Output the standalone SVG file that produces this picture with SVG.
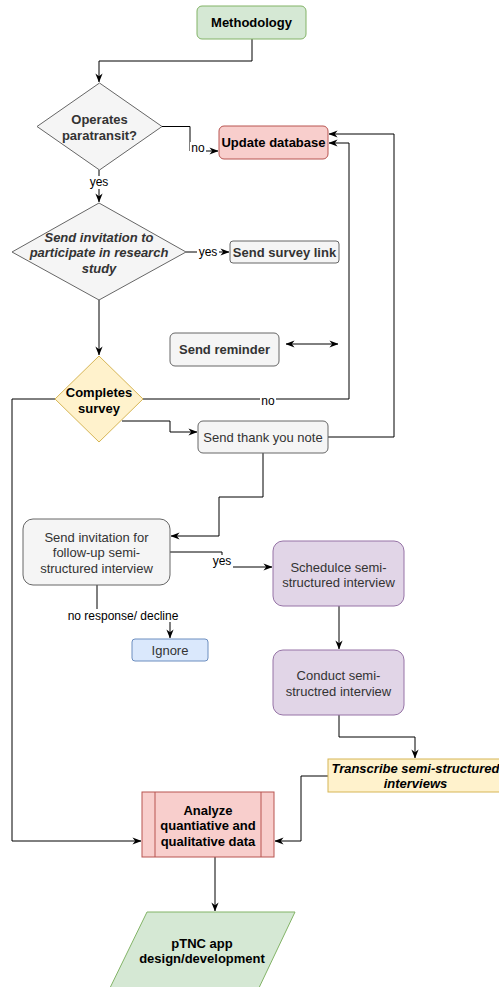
<svg xmlns="http://www.w3.org/2000/svg" width="499" height="987" viewBox="0 0 499 987">
<defs>
<style>
text{font-family:"Liberation Sans",Arial,sans-serif;font-size:13px;text-anchor:middle}
.b{font-weight:bold}
.i{font-style:italic}
.g{fill:#333}
.k{fill:#000}
.lbl{font-size:12px;fill:#000}
.grey{fill:#f5f5f5;stroke:#666;stroke-width:1}
.green{fill:#d5e8d4;stroke:#82b366;stroke-width:1}
.red{fill:#f8cecc;stroke:#b85450;stroke-width:1}
.yellow{fill:#fff2cc;stroke:#d6b656;stroke-width:1}
.purple{fill:#e1d5e7;stroke:#9673a6;stroke-width:1}
.blue{fill:#dae8fc;stroke:#6c8ebf;stroke-width:1}
.e{fill:none;stroke:#000;stroke-width:1}
.ea{fill:none;stroke:#000;stroke-width:1;marker-end:url(#arr)}
.bg{fill:#fff}
</style>
<marker id="arr" viewBox="0 0 10 10" refX="9.5" refY="5" markerWidth="9" markerHeight="9" orient="auto-start-reverse" markerUnits="userSpaceOnUse">
<path d="M0,1 L10,5 L0,9 L3,5 z" fill="#000"/>
</marker>
</defs>

<g id="connectors">
<path class="ea" d="M252 39 V61 H99 V82"/>
<path class="ea" d="M162 126.5 H190 V151 H218"/>
<path class="ea" d="M99 170 V202"/>
<path class="ea" d="M186 252 H229"/>
<path class="ea" d="M99 300 V355"/>
<path class="e" d="M286 344 H338" marker-start="url(#arr)" marker-end="url(#arr)"/>
<path class="ea" d="M143 399 H349 V143 H329"/>
<path class="ea" d="M328 437 H394 V134 H329"/>
<path class="ea" d="M55 399 H12 V841 H141"/>
<path class="ea" d="M122 421 H170 V432 H197"/>
<path class="ea" d="M263 453 V497 H219 V536 H171"/>
<path class="ea" d="M170 552 H222 V567 H272"/>
<path class="ea" d="M97 585 V616 H170 V638"/>
<path class="ea" d="M339 606 V649"/>
<path class="ea" d="M339 715 V737 H415 V758"/>
<path class="ea" d="M328 776 H301 V841 H275"/>
<path class="ea" d="M215 857 V911"/>
<rect class="bg" x="190" y="142" width="16" height="13"/>
<text class="lbl" x="198" y="152">no</text>
<rect class="bg" x="88" y="176" width="22" height="13"/>
<text class="lbl" x="99" y="186">yes</text>
<rect class="bg" x="197" y="246" width="22" height="13"/>
<text class="lbl" x="208" y="256">yes</text>
<rect class="bg" x="260" y="394" width="16" height="13"/>
<text class="lbl" x="268" y="405">no</text>
<rect class="bg" x="211" y="555" width="22" height="13"/>
<text class="lbl" x="222" y="565">yes</text>
<rect class="bg" x="66" y="609" width="114" height="13"/>
<text class="lbl" x="123" y="620">no response/ decline</text>
</g>

<g id="methodology">
<rect class="green" x="197" y="6" width="109" height="33" rx="5"/>
<text class="b k" x="251.5" y="27">Methodology</text>
</g>

<g id="operates-paratransit">
<polygon class="grey" points="99.5,83 162,126.5 99.5,170 37,126.5"/>
<text class="b g" x="99.5" y="123.5">Operates</text>
<text class="b g" x="99.5" y="139.5">paratransit?</text>
</g>

<g id="update-database">
<rect class="red" x="219" y="126" width="109" height="33" rx="5"/>
<text class="b k" x="273.5" y="147">Update database</text>
</g>

<g id="send-invitation">
<polygon class="grey" points="99,203 186,252 99,300 12,252"/>
<text class="b i g" x="99" y="241.5">Send invitation to</text>
<text class="b i g" x="99" y="256.5">participate in research</text>
<text class="b i g" x="99" y="272.5">study</text>
</g>

<g id="send-survey-link">
<rect class="grey" x="230" y="241" width="109" height="22" rx="3"/>
<text class="b g" x="284.5" y="256.5">Send survey link</text>
</g>

<g id="send-reminder">
<rect class="grey" x="170" y="333" width="109" height="33" rx="5"/>
<text class="b g" x="224.5" y="354">Send reminder</text>
</g>

<g id="completes-survey">
<polygon class="yellow" points="99,356 143,399 99,442 55,399"/>
<text class="b k" x="99" y="396.5">Completes</text>
<text class="b k" x="99" y="412.5">survey</text>
</g>

<g id="send-thank-you">
<rect class="grey" x="198" y="421" width="130" height="32" rx="5"/>
<text class="g" x="263" y="441.5">Send thank you note</text>
</g>

<g id="send-followup-invitation">
<rect class="grey" x="23" y="519" width="147" height="66" rx="10"/>
<text class="g" x="96.5" y="541.5">Send invitation for</text>
<text class="g" x="96.5" y="556.5">follow-up semi-</text>
<text class="g" x="96.5" y="572.5">structured interview</text>
</g>

<g id="ignore">
<rect class="blue" x="132" y="639" width="76" height="22" rx="3"/>
<text class="g" x="170" y="654.5">Ignore</text>
</g>

<g id="schedule-interview">
<rect class="purple" x="273" y="541" width="131" height="65" rx="10"/>
<text class="g" x="338.5" y="571.5">Schedulce semi-</text>
<text class="g" x="338.5" y="586.5">structured interview</text>
</g>

<g id="conduct-interview">
<rect class="purple" x="273" y="650" width="131" height="65" rx="10"/>
<text class="g" x="338.5" y="679.5">Conduct semi-</text>
<text class="g" x="338.5" y="695.5">structred interview</text>
</g>

<g id="transcribe">
<rect class="yellow" x="328" y="759" width="174" height="33"/>
<text class="b i k" x="415.5" y="772.5">Transcribe semi-structured</text>
<text class="b i k" x="415.5" y="787.5">interviews</text>
</g>

<g id="analyze">
<rect class="red" x="142" y="792" width="132" height="65"/>
<line x1="155" y1="792" x2="155" y2="857" stroke="#b85450"/>
<line x1="261" y1="792" x2="261" y2="857" stroke="#b85450"/>
<text class="b k" x="208" y="814.5">Analyze</text>
<text class="b k" x="208" y="829.5">quantiative and</text>
<text class="b k" x="208" y="845.5">qualitative data</text>
</g>

<g id="ptnc-app">
<polygon class="green" points="147,912 295,912 257,992 108,992"/>
<text class="b k" x="202" y="947.5">pTNC app</text>
<text class="b k" x="202" y="962.5">design/development</text>
</g>
</svg>
